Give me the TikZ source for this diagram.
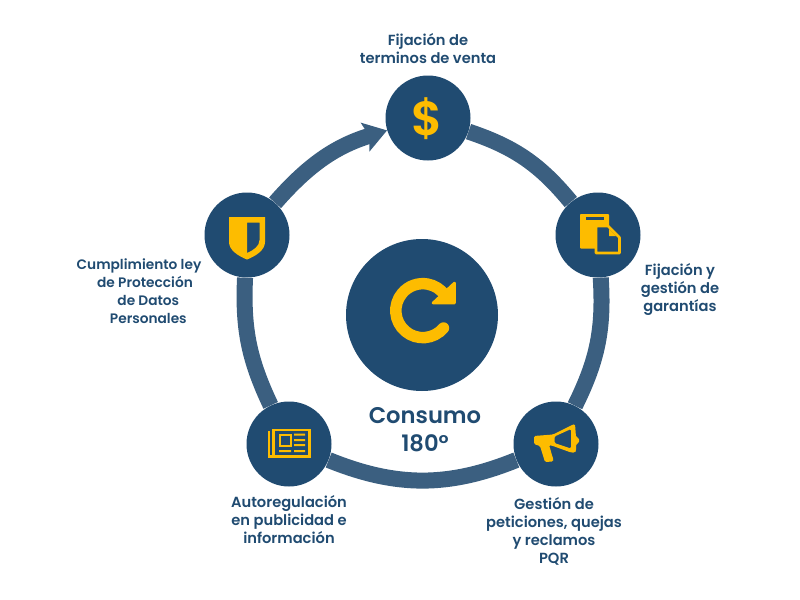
\documentclass[tikz,border=0pt]{standalone}
\usepackage{fontspec}
\setmainfont{Poppins}[UprightFont=*-SemiBold,BoldFont=*-Bold]
\usepackage{tikz}
\usetikzlibrary{arrows.meta,backgrounds}
\definecolor{navyfill}{HTML}{204B71}
\definecolor{ringblue}{HTML}{3B5F80}
\definecolor{iconyellow}{HTML}{FDBC00}
\tikzset{
  stagenode/.style={circle,fill=navyfill,minimum size=63.75pt,inner sep=0pt},
  ringline/.style={draw=ringblue,line width=12pt},
  stagetext/.style={text=navyfill,font=\fontsize{11pt}{13.5pt}\selectfont,align=center,inner sep=0.75pt},
  iconfill/.style={fill=iconyellow,draw=none},
  iconline/.style={draw=iconyellow,line width=1.9pt}
}

\begin{document}
\begin{tikzpicture}[x=0.75pt,y=0.75pt,yscale=-1,xscale=1]
\useasboundingbox (0,0) rectangle (800,600);

%Shape: Circle
\node [circle,fill=navyfill,minimum size=114pt,inner sep=0pt] (centre) at (422,315) {};
\node [stagenode] (venta) at (428,118) {};
\node [stagenode] (garantias) at (598,235) {};
\node [stagenode] (pqr) at (556,444) {};
\node [stagenode] (publicidad) at (289,444) {};
\node [stagenode] (datos) at (247,235) {};

%Curve Lines
\begin{scope}[on background layer]
\draw [ringline] (venta) to[bend right=16] (garantias);
\draw [ringline] (garantias) to[bend right=15] (pqr);
\draw [ringline] (pqr) to[bend right=22] (publicidad);
\draw [ringline] (publicidad) to[bend right=14] (datos);
\draw [ringline,-{Stealth[length=17pt,width=22pt,inset=3pt]}] (datos) to[bend right=16] (venta);
\end{scope}

%Refresh icon
\draw [draw=iconyellow,line width=8.6pt,line cap=round] (443.5,328) arc (40:325:27);
\draw [iconfill,draw=iconyellow,line width=2pt,line join=round] (454.5,283) -- (454.5,303) -- (433,303) -- cycle;

%Dollar icon
\node [text=iconyellow,font=\fontsize{36pt}{36pt}\selectfont,inner sep=0pt] (dollar) at (427,119) {\$};

%Shield icon
\draw [iconfill,even odd rule] (229,217) -- (265,217) -- (265,242) .. controls (265,250) and (256,256) .. (247,259.5) .. controls (238,256) and (229,250) .. (229,242) -- cycle
  (247,222.5) -- (259.5,222.5) -- (259.5,240) .. controls (259.5,246) and (254,250) .. (247,253) -- cycle;

%Document icon
\draw [iconfill,line join=round,rounded corners=0.6pt] (580,214) rectangle (609,248.5);
\fill [navyfill] (585.5,217) rectangle (603.5,219.5);
\draw [iconline,fill=navyfill,line join=round] (596,226) -- (608,226) -- (619.5,237.5) -- (619.5,253) -- (596,253) -- cycle;
\fill [iconyellow] (609,229) -- (616,236) -- (609,236) -- cycle;

%Megaphone icon
\draw [iconfill,even odd rule,rounded corners=1pt] (534,436) -- (553,434.5) -- (572,425) -- (575,424) -- (576,437) -- (579,438) -- (579,443) -- (576,444) -- (576,451) -- (575,452.5) -- (571,452.5) -- (553,446) -- (549,445)
  .. controls (551,451) and (552,456) .. (553.5,459) -- (553,461.5) -- (545,462) -- (540,446) -- (534,444) -- cycle
  (554.5,436.5) -- (571,429) -- (571,448.5) -- (554.5,443) -- cycle;

%Newspaper icon
\draw [iconline] (269,431) -- (269,456.5) -- (309.5,456.5) -- (309.5,430) -- (273.5,430) -- (273.5,456.5);
\draw [iconline,line width=1.6pt] (280,435) rectangle (291,446);
\fill [iconyellow] (294,433.5) rectangle (305,435.5) (294,439) rectangle (305,441) (294,444) rectangle (305,446) (279,450) rectangle (291,452) (294,450) rectangle (305,452);

% Text Node
\node [stagetext] (ventalabel) at (428,49) {Fijación de\\terminos de venta};
% Text Node
\node [stagetext,font=\fontsize{10.3pt}{13.5pt}\selectfont] (datoslabel) at (139,291) {Cumplimiento ley\\\hspace*{9pt}de Protección\\\hspace*{14pt}de Datos\\\hspace*{14pt}Personales};
% Text Node
\node [stagetext] (garantiaslabel) at (680,289) {Fijación y\\gestión de\\garantías};
% Text Node
\node [stagetext] (pqrlabel) at (554,531) {Gestión de\\peticiones, quejas\\y reclamos\\PQR};
% Text Node
\node [stagetext] (publicidadlabel) at (289,520) {Autoregulación\\en publicidad e\\información};
% Text Node
\node [stagetext,font=\fontsize{17pt}{21pt}\selectfont] (centrelabel) at (425,430) {Consumo\\180°};

\end{tikzpicture}
\end{document}
